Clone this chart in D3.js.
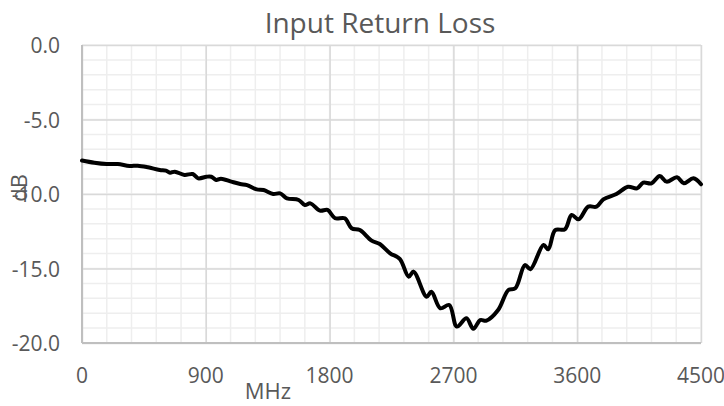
<!DOCTYPE html>
<html>
<head>
<meta charset="utf-8">
<script src="https://cdn.jsdelivr.net/npm/d3@7"></script>
<style>
  body { margin: 0; background: #fff; }
  text { font-family: "Open Sans", sans-serif; fill: #595959; }
</style>
</head>
<body>
<svg></svg>
<script>
// values
var freqMHz = [0, 90, 180, 260, 345, 405, 480, 565, 610, 640, 675, 745, 805, 845, 905, 940, 975, 1010,
  1085, 1150, 1200, 1270, 1320, 1390, 1440, 1490, 1575, 1620, 1660, 1730, 1785, 1840, 1910, 1960, 2020,
  2105, 2165, 2240, 2310, 2375, 2410, 2505, 2540, 2605, 2670, 2725, 2795, 2845, 2895, 2940, 3025, 3100,
  3150, 3220, 3260, 3355, 3390, 3440, 3510, 3560, 3610, 3680, 3740, 3790, 3885, 3970, 4035, 4080, 4140,
  4200, 4250, 4325, 4375, 4445, 4500];
var returnLossDb = [-7.75, -7.90, -7.99, -7.99, -8.12, -8.10, -8.21, -8.39, -8.43, -8.57, -8.50, -8.72,
  -8.66, -8.95, -8.84, -8.84, -9.06, -8.97, -9.17, -9.33, -9.40, -9.69, -9.73, -10.0, -9.96, -10.29,
  -10.40, -10.74, -10.63, -11.12, -11.07, -11.63, -11.63, -12.30, -12.42, -13.13, -13.36, -13.98, -14.35,
  -15.55, -15.21, -16.89, -16.56, -17.67, -17.45, -18.9, -18.34, -19.05, -18.46, -18.5, -17.79, -16.44,
  -16.33, -14.77, -15.05, -13.42, -13.71, -12.42, -12.37, -11.41, -11.70, -10.85, -10.85, -10.36, -10.0,
  -9.51, -9.62, -9.24, -9.28, -8.79, -9.17, -8.88, -9.28, -8.95, -9.35];
var xTicks = [0, 900, 1800, 2700, 3600, 4500];
var yTicks = [0, -5, -10, -15, -20];
var xMinorStep = 180;
var yMinorStep = 1;

var svgWidth = 724, svgHeight = 406;
var margin = { top: 45, right: 23, bottom: 63, left: 82 };
var width = svgWidth - margin.left - margin.right;
var height = svgHeight - margin.top - margin.bottom;

var data = freqMHz.map(function (f, i) { return { f: f, db: returnLossDb[i] }; });

var svg = d3.select('svg')
  .attr("width", svgWidth)
  .attr("height", svgHeight);

var g = svg.append("g")
  .attr("transform", "translate(" + margin.left + "," + margin.top + ")");

var x = d3.scaleLinear().domain([0, 4500]).range([0, width]);
var y = d3.scaleLinear().domain([-20, 0]).range([height, 0]);

// minor grid
g.append("g")
  .selectAll("line")
  .data(d3.range(0, 4500 + 1, xMinorStep))
  .join("line")
  .attr("x1", function (d) { return x(d); })
  .attr("x2", function (d) { return x(d); })
  .attr("y1", 0).attr("y2", height)
  .attr("stroke", "#eeeeee").attr("stroke-width", 1.5);

g.append("g")
  .selectAll("line")
  .data(d3.range(-20, 0 + 0.01, yMinorStep))
  .join("line")
  .attr("y1", function (d) { return y(d); })
  .attr("y2", function (d) { return y(d); })
  .attr("x1", 0).attr("x2", width)
  .attr("stroke", "#eeeeee").attr("stroke-width", 1.5);

// major grid
g.append("g")
  .call(d3.axisBottom(x).tickValues(xTicks).tickSize(-height).tickFormat(""))
  .attr("transform", "translate(0," + height + ")")
  .call(function (a) { a.select(".domain").remove(); })
  .selectAll("line").attr("stroke", "#d9d9d9").attr("stroke-width", 1.5);

g.append("g")
  .call(d3.axisLeft(y).tickValues(yTicks).tickSize(-width).tickFormat(""))
  .call(function (a) { a.select(".domain").remove(); })
  .selectAll("line").attr("stroke", "#d9d9d9").attr("stroke-width", 1.5);

// axis lines
g.append("line")
  .attr("x1", 0).attr("x2", 0).attr("y1", 0).attr("y2", height)
  .attr("stroke", "#bfbfbf").attr("stroke-width", 2);
g.append("line")
  .attr("x1", 0).attr("x2", width).attr("y1", height).attr("y2", height)
  .attr("stroke", "#bfbfbf").attr("stroke-width", 2);

// tick labels
g.append("g")
  .selectAll("text")
  .data(yTicks)
  .join("text")
  .attr("x", -22)
  .attr("y", function (d) { return y(d) + 1; })
  .attr("dy", "0.35em")
  .attr("text-anchor", "end")
  .style("font-size", "21px")
  .text(function (d) { return d.toFixed(1); });

g.append("g")
  .selectAll("text")
  .data(xTicks)
  .join("text")
  .attr("x", function (d) { return x(d); })
  .attr("y", height + 40)
  .attr("text-anchor", "middle")
  .style("font-size", "21px")
  .text(function (d) { return d; });

// the curve
var line = d3.line()
  .x(function (d) { return x(d.f); })
  .y(function (d) { return y(d.db); })
  .curve(d3.curveCatmullRom);

g.append("path")
  .datum(data)
  .attr("fill", "none")
  .attr("stroke", "#000")
  .attr("stroke-width", 4)
  .attr("stroke-linejoin", "round")
  .attr("stroke-linecap", "round")
  .attr("d", line);

// titles
svg.append("text")
  .attr("x", 380).attr("y", 33)
  .attr("text-anchor", "middle")
  .style("font-size", "28px")
  .text("Input Return Loss");

svg.append("text")
  .attr("x", 268).attr("y", 399)
  .attr("text-anchor", "middle")
  .style("font-size", "22px")
  .text("MHz");

svg.append("text")
  .attr("transform", "translate(27,188) rotate(-90)")
  .attr("text-anchor", "middle")
  .style("font-size", "22px")
  .text("dB");
</script>
</body>
</html>
